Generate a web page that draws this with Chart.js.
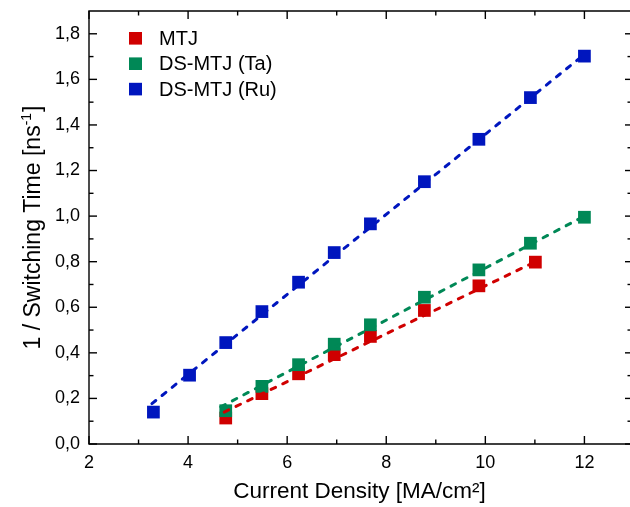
<!DOCTYPE html>
<html>
<head>
<meta charset="utf-8">
<script src="https://cdn.jsdelivr.net/npm/chart.js@4.4.1/dist/chart.umd.min.js"></script>
<style>
  html, body { margin: 0; padding: 0; background: #fff; }
  canvas { display: block; }
</style>
</head>
<body>
<canvas id="chart" width="630" height="507"></canvas>
<script>
// current density [MA/cm²] and 1/switching time [ns^-1]
const mtjX = [4.76, 5.49, 6.23, 6.95, 7.68, 8.77, 9.87, 11.01];
const mtjY = [0.114, 0.221, 0.308, 0.392, 0.472, 0.586, 0.694, 0.798];
const taX = [4.76, 5.49, 6.23, 6.95, 7.68, 8.77, 9.87, 10.91, 12.0];
const taY = [0.146, 0.253, 0.348, 0.438, 0.523, 0.644, 0.764, 0.881, 0.995];
const ruX = [3.30, 4.03, 4.76, 5.49, 6.23, 6.95, 7.68, 8.77, 9.87, 10.91, 12.0];
const ruY = [0.140, 0.302, 0.445, 0.581, 0.710, 0.840, 0.966, 1.151, 1.337, 1.520, 1.702];

// linear fit lines (start / end points as drawn)
const mtjFitX = [4.73, 11.01];
const mtjFitY = [0.140, 0.800];
const taFitX = [4.66, 12.0];
const taFitY = [0.163, 1.000];
const ruFitX = [3.27, 12.0];
const ruFitY = [0.177, 1.710];

const seriesNames = ['MTJ', 'DS-MTJ (Ta)', 'DS-MTJ (Ru)'];
const seriesColors = ['rgb(208,0,0)', 'rgb(0,136,86)', 'rgb(0,22,190)'];

const xTicks = [2, 4, 6, 8, 10, 12];
const xMinor = [3, 5, 7, 9, 11];
const yTicks = [0, 0.2, 0.4, 0.6, 0.8, 1.0, 1.2, 1.4, 1.6, 1.8];
const yMinor = [0.1, 0.3, 0.5, 0.7, 0.9, 1.1, 1.3, 1.5, 1.7];

const family = '"Liberation Sans", Arial, sans-serif';

const pts = (xs, ys) => xs.map((x, i) => ({ x: x, y: ys[i] }));

const markerSet = (i, xs, ys, order) => ({
  label: seriesNames[i],
  data: pts(xs, ys),
  backgroundColor: seriesColors[i],
  borderColor: seriesColors[i],
  pointStyle: 'rect',
  pointRadius: 9,
  pointBorderWidth: 0,
  showLine: false,
  order: order
});

const fitSet = (i, xs, ys) => ({
  label: seriesNames[i] + ' fit',
  data: pts(xs, ys),
  borderColor: seriesColors[i],
  borderWidth: 3,
  borderDash: [5, 8],
  borderCapStyle: 'round',
  pointRadius: 0,
  showLine: true,
  fill: false,
  order: 0
});

const frame = {
  id: 'frame',
  afterDatasetsDraw(chart) {
    const { ctx, chartArea: a, scales: { x, y } } = chart;
    ctx.save();
    ctx.strokeStyle = '#000';
    ctx.lineWidth = 1.4;
    ctx.beginPath();
    ctx.moveTo(a.right + 2, a.top);
    ctx.lineTo(a.left, a.top);
    ctx.lineTo(a.left, a.bottom);
    ctx.lineTo(a.right + 2, a.bottom);
    ctx.stroke();
    const mark = (px, py, dx, dy) => {
      ctx.beginPath();
      ctx.moveTo(px, py);
      ctx.lineTo(px + dx, py + dy);
      ctx.stroke();
    };
    xTicks.forEach(v => {
      const p = x.getPixelForValue(v);
      mark(p, a.bottom, 0, -8);
      mark(p, a.top, 0, 8);
    });
    xMinor.forEach(v => {
      const p = x.getPixelForValue(v);
      mark(p, a.bottom, 0, -4.5);
      mark(p, a.top, 0, 4.5);
    });
    yTicks.forEach(v => {
      const p = y.getPixelForValue(v);
      mark(a.left, p, 8, 0);
      mark(a.right + 1, p, -6, 0);
    });
    yMinor.forEach(v => {
      const p = y.getPixelForValue(v);
      mark(a.left, p, 4.5, 0);
      mark(a.right + 1, p, -3.5, 0);
    });
    ctx.restore();
  }
};

// y axis title with a real superscript
const yTitle = {
  id: 'yTitle',
  afterDraw(chart) {
    const { ctx, chartArea: a } = chart;
    const main = '1 / Switching Time [ns';
    const sup = '-1';
    const end = ']';
    ctx.save();
    ctx.fillStyle = '#000';
    ctx.textBaseline = 'alphabetic';
    ctx.font = '23px ' + family;
    const wMain = ctx.measureText(main).width;
    const wEnd = ctx.measureText(end).width;
    ctx.font = '14px ' + family;
    const wSup = ctx.measureText(sup).width;
    const total = wMain + wSup + 1 + wEnd;
    ctx.translate(39.5, (a.top + a.bottom) / 2);
    ctx.rotate(-Math.PI / 2);
    let x0 = -total / 2;
    ctx.font = '23px ' + family;
    ctx.fillText(main, x0, 0);
    x0 += wMain;
    ctx.font = '14px ' + family;
    ctx.fillText(sup, x0, -9);
    x0 += wSup + 1;
    ctx.font = '23px ' + family;
    ctx.fillText(end, x0, 0);
    ctx.restore();
  }
};

const legendBox = {
  id: 'legendBox',
  afterDraw(chart) {
    const ctx = chart.ctx;
    ctx.save();
    ctx.font = '20px ' + family;
    ctx.textBaseline = 'middle';
    seriesNames.forEach((name, i) => {
      const cy = 38.3 + i * 25.4;
      ctx.fillStyle = seriesColors[i];
      ctx.fillRect(129, cy - 6.3, 13, 12.6);
      ctx.fillStyle = '#000';
      ctx.fillText(name, 159, cy + 1);
    });
    ctx.restore();
  }
};

new Chart(document.getElementById('chart'), {
  type: 'scatter',
  data: {
    datasets: [
      fitSet(0, mtjFitX, mtjFitY),
      fitSet(1, taFitX, taFitY),
      fitSet(2, ruFitX, ruFitY),
      markerSet(0, mtjX, mtjY, 3),
      markerSet(1, taX, taY, 2),
      markerSet(2, ruX, ruY, 1)
    ]
  },
  options: {
    responsive: false,
    animation: false,
    devicePixelRatio: 1,
    layout: { autoPadding: false, padding: { top: 11, left: 0, right: 0, bottom: 0 } },
    plugins: { legend: { display: false }, tooltip: { enabled: false } },
    scales: {
      x: {
        type: 'linear',
        min: 2,
        max: 12.92,
        grid: { display: false, drawTicks: false },
        border: { display: false },
        ticks: {
          color: '#000',
          font: { size: 18, family: family },
          padding: 8,
          maxRotation: 0,
          autoSkip: false
        },
        afterBuildTicks: s => { s.ticks = xTicks.map(v => ({ value: v })); },
        afterFit: s => {
          s.height = 63;
          s.paddingLeft = 0;
          s.paddingRight = 0;
        },
        title: {
          display: true,
          text: 'Current Density [MA/cm²]',
          color: '#000',
          font: { size: 22.5, family: family, lineHeight: 1 },
          padding: { top: 0, bottom: 4 }
        }
      },
      y: {
        type: 'linear',
        min: 0,
        max: 1.9,
        grid: { display: false, drawTicks: false },
        border: { display: false },
        ticks: {
          color: '#000',
          font: { size: 18, family: family },
          padding: 9,
          autoSkip: false,
          callback: v => v.toFixed(1).replace('.', ',')
        },
        afterBuildTicks: s => { s.ticks = yTicks.map(v => ({ value: v })); },
        afterFit: s => {
          s.width = 89;
          s.paddingTop = 0;
          s.paddingBottom = 0;
        },
        title: { display: false }
      }
    }
  },
  plugins: [frame, yTitle, legendBox]
});
</script>
</body>
</html>
